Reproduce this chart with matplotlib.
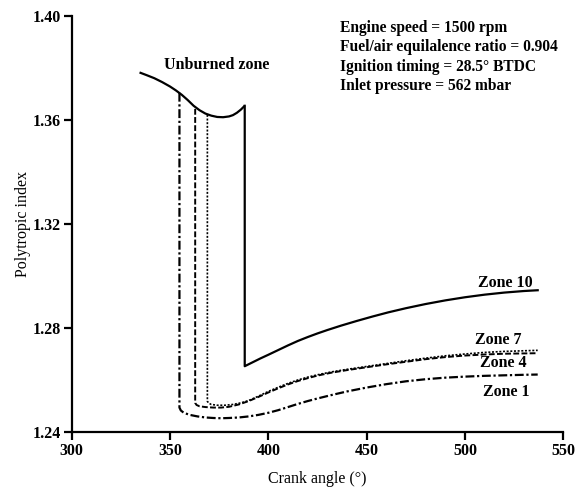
import matplotlib
matplotlib.use("Agg")
import matplotlib.pyplot as plt

plt.rcParams['font.family'] = ['Liberation Serif', 'DejaVu Serif']

# unburned zone (before ignition)
unburned_x = [334.5, 338, 342, 346, 350, 353, 356, 359, 362, 365, 368, 371, 374, 377, 380, 382, 384, 386, 388]
unburned_y = [1.3783, 1.3773, 1.3761, 1.3746, 1.3729, 1.3714, 1.3697, 1.3677, 1.3655, 1.3638, 1.3625, 1.3617, 1.3612, 1.3611, 1.3614, 1.3619, 1.3628, 1.3640, 1.3655]

# burned zones
zone1_x = [354.8, 354.8, 355.5, 357, 360, 364, 368, 372, 376, 380, 385, 390, 395, 400, 405, 410, 415, 420, 425,
           432, 440, 450, 460, 470, 480, 490, 500, 510, 520, 530, 537]
zone1_y = [1.3705, 1.2495, 1.2484, 1.2475, 1.2467, 1.2461, 1.2457, 1.2455, 1.2454, 1.2455, 1.2457, 1.2461, 1.2467, 1.2475,
           1.2485, 1.2497, 1.2509, 1.2520, 1.2530, 1.2543, 1.2557, 1.2572, 1.2585, 1.2596, 1.2604, 1.2610, 1.2614,
           1.2617, 1.2619, 1.2621, 1.2622]

zone4_x = [362.8, 362.8, 363.5, 365, 368, 372, 376, 380, 385, 390, 395, 400, 405, 410, 415, 420, 425, 432, 440,
           450, 460, 470, 480, 490, 500, 510, 520, 537]
zone4_y = [1.3643, 1.2513, 1.2505, 1.2500, 1.2497, 1.2495, 1.2495, 1.2498, 1.2507, 1.2520, 1.2536, 1.2553, 1.2569,
           1.2584, 1.2597, 1.2608, 1.2618, 1.2629, 1.2639, 1.2650, 1.2661, 1.2671, 1.2681, 1.2689, 1.2695, 1.2699,
           1.2702, 1.2704]

zone7_x = [369, 369, 369.7, 371, 374, 378, 382, 386, 390, 395, 400, 405, 410, 415, 420, 425, 432, 440, 450, 460,
           470, 480, 490, 500, 510, 520, 537]
zone7_y = [1.3620, 1.2519, 1.2512, 1.2507, 1.2504, 1.2504, 1.2507, 1.2513, 1.2522, 1.2539, 1.2557, 1.2573, 1.2588,
           1.2601, 1.2612, 1.2621, 1.2632, 1.2642, 1.2653, 1.2664, 1.2675, 1.2685, 1.2694, 1.2701, 1.2707, 1.2711,
           1.2715]

zone10_x = [388, 388, 392, 396, 400, 405, 410, 415, 420, 425, 430, 437, 445, 453, 461, 470, 480, 490, 500, 510,
            520, 530, 537]
zone10_y = [1.3655, 1.2654, 1.2669, 1.2684, 1.2698, 1.2716, 1.2734, 1.2751, 1.2766, 1.2780, 1.2793, 1.2810, 1.2828,
            1.2845, 1.2861, 1.2877, 1.2893, 1.2907, 1.2919, 1.2929, 1.2937, 1.2943, 1.2946]

info = ["Engine speed = 1500 rpm",
        "Fuel/air equilalence ratio = 0.904",
        "Ignition timing = 28.5\u00b0 BTDC",
        "Inlet pressure = 562 mbar"]

fig = plt.figure(figsize=(5.82, 4.94), dpi=100)
ax = fig.add_axes([0.1232, 0.1249, 0.8446, 0.8427])

ax.plot(unburned_x, unburned_y, color="black", lw=1.6, solid_capstyle="butt")
ax.plot(zone10_x, zone10_y, color="black", lw=1.6)
ax.plot(zone1_x, zone1_y, color="black", lw=1.6, dashes=(4, 1.2, 1, 1.2))
ax.plot(zone4_x, zone4_y, color="black", lw=1.4, dashes=(3, 1.2))
ax.plot(zone7_x, zone7_y, color="black", lw=1.2, dashes=(1.2, 1))

ax.text(373.5, 1.3812, "Unburned zone", ha="center", va="center", fontsize=11.5, fontweight="bold")
ax.text(520.7, 1.2975, "Zone 10", ha="center", va="center", fontsize=11.5, fontweight="bold")
ax.text(517, 1.2755, "Zone 7", ha="center", va="center", fontsize=11.5, fontweight="bold")
ax.text(519.6, 1.2666, "Zone 4", ha="center", va="center", fontsize=11.5, fontweight="bold")
ax.text(521, 1.2555, "Zone 1", ha="center", va="center", fontsize=11.5, fontweight="bold")
ax.text(436.5, 1.3985, "\n".join(info), ha="left", va="top", fontsize=11.2,
        fontweight="bold", linespacing=1.28)

ax.set_xlim(300, 550)
ax.set_ylim(1.24, 1.40)
ax.set_xticks([300, 350, 400, 450, 500, 550])
ax.set_yticks([1.24, 1.28, 1.32, 1.36, 1.40])
ax.set_yticklabels(["1.24", "1.28", "1.32", "1.36", "1.40"])
ax.spines["top"].set_visible(False)
ax.spines["right"].set_visible(False)
ax.spines["left"].set_linewidth(1.6)
ax.spines["bottom"].set_linewidth(1.6)
ax.tick_params(direction="out", length=6, width=1.6, labelsize=11.5, pad=2)
for lbl in ax.get_xticklabels() + ax.get_yticklabels():
    lbl.set_fontweight("bold")
ax.set_xlabel("Crank angle (\u00b0)", fontsize=11.5, labelpad=8)
ax.set_ylabel("Polytropic index", fontsize=11.5, labelpad=1)

fig.savefig("out.png", dpi=100)
